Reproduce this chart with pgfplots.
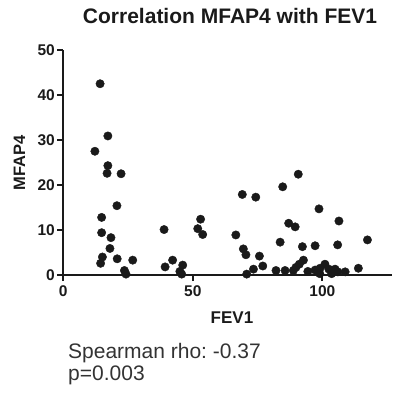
\documentclass[border=0pt]{standalone}
\usepackage{pgfplots}
\pgfplotsset{compat=1.18}
\usepackage{fontspec}
\setmainfont{Liberation Sans}
\definecolor{ink}{HTML}{1A1A1A}
\frenchspacing
\begin{document}
\begin{tikzpicture}
\begin{axis}[
  scale only axis,
  width=329pt, height=225pt,
  xmin=0, xmax=127, ymin=0, ymax=50,
  axis lines=left,
  axis line style={-, line width=2.2pt, ink},
  xtick={0,50,100}, ytick={0,10,20,30,40,50},
  tick align=outside,
  major tick length=6pt,
  tick style={line width=2pt, ink},
  /pgf/number format/assume math mode=true,
  tick label style={font=\bfseries\fontsize{15.5}{18}\selectfont, text=ink},
  xticklabel style={yshift=-1pt},
  yticklabel style={xshift=1pt},
  clip=false,
]
\addplot[only marks, mark=*, mark size=4.2pt, ink, mark options={fill=ink, draw=ink}] coordinates {
(14.2,42.5) (12.2,27.5) (17.2,30.9) (17.2,24.3) (16.9,22.6) (22.3,22.5)
(20.7,15.4) (14.8,12.8) (14.8,9.4) (18.4,8.3) (18.0,5.9) (15.1,4.0)
(14.4,2.6) (20.8,3.6) (26.8,3.3) (23.6,1.0) (24.2,0.2)
(38.9,10.1) (39.3,1.8) (42.2,3.3) (46.1,2.2) (45.0,0.8) (45.7,0.2)
(53.0,12.4) (51.9,10.3) (53.8,9.0) (66.6,8.9) (69.1,17.9) (69.5,5.8)
(70.5,4.5) (70.8,0.2) (74.3,17.3) (75.7,4.2) (77.0,2.0) (73.4,1.3)
(90.7,22.4) (84.7,19.6) (98.7,14.7) (87.0,11.5) (89.5,10.7) (106.4,12.0)
(117.4,7.8) (83.7,7.3) (92.3,6.3) (97.2,6.5) (105.9,6.7) (92.7,3.3)
(91.1,2.4) (89.8,1.7) (82.1,1.0) (85.6,1.0) (88.8,1.0) (101.0,2.4)
(99.1,1.5) (97.2,1.1) (94.4,0.8) (102.5,1.3) (104.9,1.3) (106.0,0.7)
(108.8,0.7) (113.9,1.5) (99.0,0.3) (103.6,0.3)
};
\end{axis}
\path[use as bounding box] (-63.3pt,-119pt) rectangle (331.7pt,275pt);
\node[anchor=base, text=ink, font=\bfseries\fontsize{21}{25}\selectfont] at (166.7pt,251pt) {Correlation MFAP4 with FEV1};
\node[anchor=base, text=ink, font=\bfseries\fontsize{17}{20}\selectfont] at (168.7pt,-48pt) {FEV1};
\node[anchor=base, rotate=90, text=ink, font=\bfseries\fontsize{16.5}{20}\selectfont] at (-38.3pt,112pt) {MFAP4};
\node[anchor=base west, inner sep=0pt, text=black!80, font=\fontsize{21}{25}\selectfont] at (4.7pt,-83pt) {Spearman rho: -0.37};
\node[anchor=base west, inner sep=0pt, text=black!80, font=\fontsize{21}{25}\selectfont] at (4.7pt,-105pt) {p=0.003};
\end{tikzpicture}
\end{document}
